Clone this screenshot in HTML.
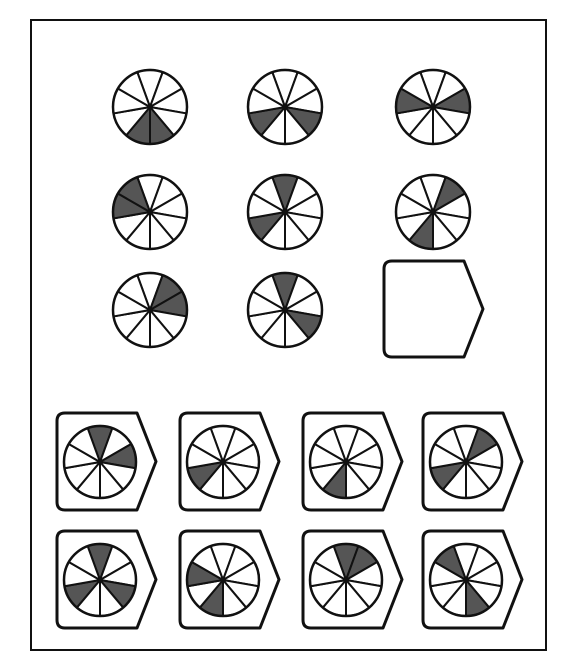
<!DOCTYPE html>
<html><head><meta charset="utf-8"><style>body{margin:0;background:#fff}svg{display:block}</style></head>
<body>
<svg id="s" width="582" height="663" viewBox="0 0 582 663">
<rect x="31" y="20" width="515" height="630" fill="none" stroke="#111" stroke-width="2"/>
</svg>
<script>
const gridShaded = [[4,5],[3,6],[2,7],[7,8],[0,6],[1,5],[1,2],[0,3]];
const optionShaded = [[0,2],[6],[5],[1,6],[0,3,6],[5,7],[0,1],[4,8]];
const gridX = [150,285,433];
const gridY = [107,212,310];
const optX = [57,180,303,423];
const optY = [413,531];
const NS = 'http://www.w3.org/2000/svg';
const svg = document.getElementById('s');
function el(t,a,p){const e=document.createElementNS(NS,t);for(const k in a)e.setAttribute(k,a[k]);(p||svg).appendChild(e);return e;}
function pt(cx,cy,r,deg){const a=deg*Math.PI/180;return [cx+r*Math.sin(a),cy-r*Math.cos(a)];}
function wheel(cx,cy,r,shaded,name){
  const g=el('g',{});
  
  
  for(let k=0;k<9;k++){
    const a0=-20+40*k,a1=20+40*k;
    const p0=pt(cx,cy,r,a0),p1=pt(cx,cy,r,a1);
    const s=el('path',{d:`M${cx},${cy}L${p0[0]},${p0[1]}A${r},${r} 0 0 1 ${p1[0]},${p1[1]}Z`,fill:shaded.includes(k)?'#555':'#fff',stroke:'#111','stroke-width':2,'stroke-linejoin':'round'},g);
    
    
  }
  el('circle',{cx:cx,cy:cy,r:r,fill:'none',stroke:'#111','stroke-width':2.5},g);
  el('circle',{cx:cx,cy:cy,r:2.5,fill:'#111'},g);
}
function box(x,y,w,h,name,inter){
  const tw=w-19, r=8;
  const d=`M${x+r},${y}H${x+tw}L${x+w},${y+h/2}L${x+tw},${y+h}H${x+r}Q${x},${y+h} ${x},${y+h-r}V${y+r}Q${x},${y} ${x+r},${y}Z`;
  const b=el('path',{d:d,fill:'#fff',stroke:'#111','stroke-width':3,'stroke-linejoin':'round'});
  
  
}
gridShaded.forEach((s,i)=>{wheel(gridX[i%3],gridY[Math.floor(i/3)],37,s,'grid-wheel-'+(i+1));});
box(384,261,99,96,'answer-placeholder','false');
optionShaded.forEach((s,i)=>{
  const x=optX[i%4],y=optY[Math.floor(i/4)];
  box(x,y,99,97,'option-box-'+(i+1),'true');
  wheel(x+43,y+49,36,s,'option-wheel-'+(i+1));
});
</script>
</body></html>
